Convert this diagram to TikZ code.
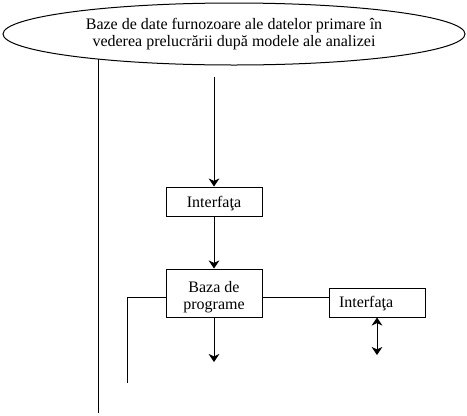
\documentclass[tikz,border=0pt]{standalone}
\usepackage{fontspec}
\setmainfont{Liberation Serif}
\usetikzlibrary{shapes.geometric,arrows.meta}
\begin{document}
\begin{tikzpicture}[x=0.75pt,y=-0.75pt,line width=0.75pt,
  txt/.style={font=\fontsize{12}{12.6}\selectfont},
  box/.style={draw,rectangle,txt,inner sep=0pt,minimum width=72pt,align=center},
  arr/.style={-{Stealth[length=6pt,width=8pt,inset=1.8pt]}},
  darr/.style={{Stealth[length=6pt,width=8pt,inset=1.8pt]}-{Stealth[length=6pt,width=8pt,inset=1.8pt]}}]
\useasboundingbox (0,0) rectangle (467,415);
\node[draw,ellipse,inner sep=0pt,minimum width=346.5pt,minimum height=46.5pt,txt,align=center,
  text height=22pt,text depth=3pt] (db) at (234,34)
  {Baze de date furnozoare ale datelor primare în\\vederea prelucrării după modele ale analizei};
\node[box,minimum height=21.75pt,text height=10pt,text depth=1.3pt] (i1) at (214,201.5) {Interfaţa};
\node[box,minimum height=36pt,text height=26.5pt,text depth=2.5pt] (bp) at (214,293) {Baza de\\programe};
\node[draw,rectangle,txt,inner ysep=0pt,inner xsep=7.5pt,text width=57pt,align=left,
  minimum height=21.75pt,text height=9.8pt,text depth=2pt] (i2) at (377,302.5) {Interfaţa};
\coordinate (lt) at (98,59);
\coordinate (lb) at (98,413);
\coordinate (mt) at (214,77);
\coordinate (me) at (214,362);
\coordinate (kt) at (127,297);
\coordinate (kb) at (127,383);
\coordinate (de) at (377,355);
\draw (lt) -- (lb);
\draw[arr] (mt) -- (i1.north);
\draw[arr] (i1.south) -- (bp.north);
\draw[arr] (bp.south) -- (me);
\draw (kt -| bp.west) -- (kt) -- (kb);
\draw (kt -| bp.east) -- (kt -| i2.west);
\draw[darr] (i2.south -| de) -- (de);
\end{tikzpicture}
\end{document}
